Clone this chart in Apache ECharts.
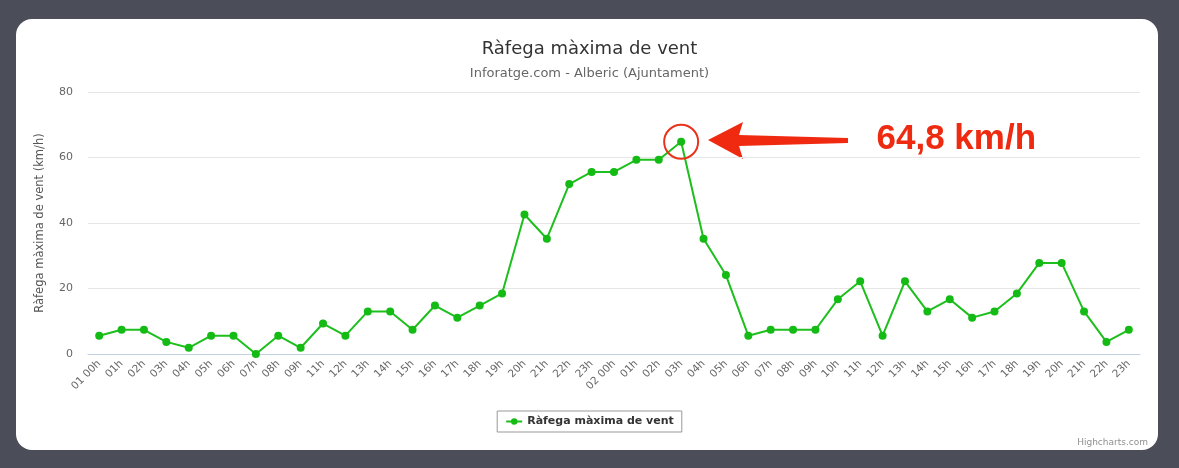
<!DOCTYPE html>
<html>
<head>
<meta charset="utf-8">
<script src="https://cdn.jsdelivr.net/npm/echarts@6/dist/echarts.min.js"></script>
<style>
  html, body { margin: 0; padding: 0; background: #4b4e59; }
  #card { position: absolute; left: 16px; top: 19px; width: 1142px; height: 431px; background: #fff; border-radius: 16px; }
  #chart { position: absolute; left: 0; top: 0; width: 1179px; height: 468px; }
</style>
</head>
<body>
<div id="card"></div>
<div id="chart"></div>
<script>
// hores (el 01 10h no apareix a les dades)
var hours = [
  '01 00h','01h','02h','03h','04h','05h','06h','07h','08h','09h','11h','12h','13h','14h','15h','16h','17h','18h','19h','20h','21h','22h','23h',
  '02 00h','01h','02h','03h','04h','05h','06h','07h','08h','09h','10h','11h','12h','13h','14h','15h','16h','17h','18h','19h','20h','21h','22h','23h'
];
// ràfega màxima (km/h)
var gust = [
  5.6, 7.4, 7.4, 3.7, 1.9, 5.6, 5.6, 0, 5.6, 1.9, 9.3, 5.6, 13, 13, 7.4, 14.8, 11.1, 14.8, 18.5, 42.6, 35.2, 51.9, 55.6,
  55.6, 59.3, 59.3, 64.8, 35.2, 24.1, 5.6, 7.4, 7.4, 7.4, 16.7, 22.2, 5.6, 22.2, 13, 16.7, 11.1, 13, 18.5, 27.8, 27.8, 13, 3.7, 7.4
];
var yTicks = [0, 20, 40, 60, 80];
var seriesName = 'Ràfega màxima de vent';

var font = '"DejaVu Sans", sans-serif';
var chart = echarts.init(document.getElementById('chart'));

var peakIdx = gust.indexOf(Math.max.apply(null, gust));

var option = {
  backgroundColor: 'transparent',
  animation: false,
  textStyle: { fontFamily: font },
  title: {
    text: 'Ràfega màxima de vent',
    subtext: 'Inforatge.com - Alberic (Ajuntament)',
    left: 'center',
    top: 35,
    itemGap: 9,
    textStyle: { fontFamily: font, fontSize: 18, fontWeight: 'normal', color: '#333' },
    subtextStyle: { fontFamily: font, fontSize: 13, color: '#666' }
  },
  legend: {
    bottom: 36,
    left: 'center',
    data: [seriesName],
    borderColor: '#999',
    borderWidth: 1,
    borderRadius: 0,
    padding: [5, 8],
    itemWidth: 16,
    itemHeight: 8,
    textStyle: { fontFamily: font, fontSize: 11, fontWeight: 'bold', color: '#333' }
  },
  grid: { left: 88, right: 39, top: 92, bottom: 114 },
  xAxis: {
    type: 'category',
    data: hours,
    boundaryGap: true,
    axisLine: { lineStyle: { color: '#c0d0e0' } },
    axisTick: { length: 6, lineStyle: { color: '#c0d0e0' } },
    axisLabel: { rotate: 45, interval: 0, fontSize: 10.5, color: '#666', fontFamily: font, margin: 8 }
  },
  yAxis: {
    type: 'value',
    min: yTicks[0],
    max: yTicks[yTicks.length - 1],
    interval: 20,
    name: 'Ràfega màxima de vent (km/h)',
    nameLocation: 'middle',
    nameGap: 42,
    nameTextStyle: { fontFamily: font, fontSize: 11.5, color: '#555' },
    axisLine: { show: false },
    axisTick: { show: false },
    axisLabel: { fontSize: 11, color: '#666', margin: 15, fontFamily: font },
    splitLine: { lineStyle: { color: '#e6e6e6' } }
  },
  series: [{
    name: seriesName,
    type: 'line',
    data: gust,
    symbol: 'circle',
    symbolSize: 8,
    lineStyle: { color: '#1dbf1d', width: 2 },
    itemStyle: { color: '#14bb14' },
    markPoint: {
      silent: true,
      symbol: 'circle',
      symbolSize: 34,
      itemStyle: { color: 'rgba(0,0,0,0)', borderColor: '#e8321a', borderWidth: 2 },
      label: { show: false },
      data: [{ coord: [peakIdx, gust[peakIdx]] }]
    }
  }],
  graphic: [
    {
      type: 'polygon',
      shape: { points: [[708, 140], [743, 122], [739, 135], [848, 138], [848, 143], [739, 146], [743, 159]] },
      style: { fill: '#f02a10' }
    },
    {
      type: 'text',
      left: 875,
      top: 120,
      style: {
        text: '64,8 km/h',
        font: 'bold 35px "Liberation Sans", Arial, sans-serif',
        fill: '#ee2a10',
        stroke: '#fff',
        lineWidth: 3,
        shadowColor: 'rgba(0,0,0,0.25)',
        shadowBlur: 3,
        shadowOffsetY: 1
      }
    },
    {
      type: 'text',
      right: 31,
      top: 438,
      style: { text: 'Highcharts.com', font: '9px "DejaVu Sans", sans-serif', fill: '#909090' }
    }
  ]
};

chart.setOption(option);
</script>
</body>
</html>
